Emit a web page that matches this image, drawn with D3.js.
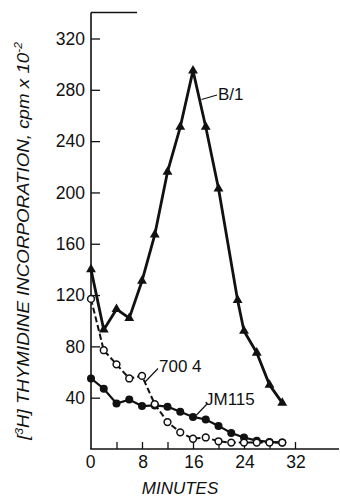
<!DOCTYPE html>
<html><head><meta charset="utf-8">
<script src="https://cdn.jsdelivr.net/npm/d3@7"></script>
<style>
html,body{margin:0;padding:0;background:#fff;}
svg{display:block;}
text{font-family:"Liberation Sans",Arial,Helvetica,sans-serif;fill:#111;}
</style></head><body>
<div id="chart"></div>
<script>
// ---- data ----
const b1Times   = [0,2,4,6,8,10,12,14,16,18,20,23,24,26,28,30];
const b1Values  = [140,93,109,102,131,167,216,251,295,251,203,116,92,75,50,36];
const s7004Times  = [0,2,4,6,8,10,12,14,16,18,20,22,24,26,28,30];
const s7004Values = [117,77,66,55,57,35,21,13,8,9,6,5,5,5,5,5];
const jmTimes   = [0,2,4,6,8,10,12,14,16,18,20,22,24,26,28,30];
const jmValues  = [55,47,35.5,38.5,33.5,34,33,29,25,23,18,12.5,9,6.5,5.5,5];
const xTickLabels = [0,8,16,24,32];
const xTickMarks  = [4,8,12,16,20,24,28,32];
const yTickLabels = [40,80,120,160,200,240,280,320];

const W = 340, H = 500;
const svg = d3.select("#chart").append("svg").attr("width", W).attr("height", H);

const x = d3.scaleLinear().domain([0, 32]).range([91, 295]);
const y = d3.scaleLinear().domain([0, 320]).range([449, 38.5]);

const ink = "#111";

// axes lines
svg.append("line").attr("x1", x(0)).attr("x2", x(0)).attr("y1", y(0)).attr("y2", 12.5)
  .attr("stroke", ink).attr("stroke-width", 1.6);
svg.append("line").attr("x1", x(0)).attr("x2", 137).attr("y1", 12.5).attr("y2", 12.5)
  .attr("stroke", ink).attr("stroke-width", 1.4);
svg.append("line").attr("x1", x(0) - 0.8).attr("x2", 339).attr("y1", y(0)).attr("y2", y(0))
  .attr("stroke", ink).attr("stroke-width", 1.6);

// y axis ticks (inward) and labels
const yAxis = d3.axisRight(y).tickValues(yTickLabels).tickSize(9).tickFormat("");
svg.append("g").attr("transform", `translate(${x(0)},0)`).call(yAxis)
  .call(g => g.select(".domain").remove())
  .call(g => g.selectAll(".tick line").attr("stroke", ink).attr("stroke-width", 1.3));
svg.append("g").selectAll("text").data(yTickLabels).join("text")
  .attr("x", 85).attr("y", d => y(d)).attr("dy", "0.36em")
  .attr("text-anchor", "end").attr("font-size", 17.5).text(d => d);

// x axis ticks (inward)
const xAxis = d3.axisTop(x).tickValues(xTickMarks).tickSize(7).tickFormat("");
svg.append("g").attr("transform", `translate(0,${y(0)})`).call(xAxis)
  .call(g => g.select(".domain").remove())
  .call(g => g.selectAll(".tick line").attr("stroke", ink).attr("stroke-width", 1.3));
svg.append("g").selectAll("text").data(xTickLabels).join("text")
  .attr("x", d => x(d) + (d === 0 ? -0.5 : 1)).attr("y", 467.5)
  .attr("text-anchor", "middle").attr("font-size", 17.5).text(d => d);

// axis titles
svg.append("text").attr("x", 180).attr("y", 494).attr("text-anchor", "middle")
  .attr("font-size", 17).attr("font-style", "italic").text("MINUTES");

const yt = svg.append("text")
  .attr("transform", "translate(29,440) rotate(-90)")
  .attr("font-size", 17).attr("font-style", "italic")
  .attr("textLength", 398).attr("lengthAdjust", "spacingAndGlyphs");
yt.append("tspan").text("[");
yt.append("tspan").attr("dy", -6).attr("font-size", 11).text("3");
yt.append("tspan").attr("dy", 6).text("H]  THYMIDINE  INCORPORATION,  cpm  x  10");
yt.append("tspan").attr("dy", -7).attr("font-size", 11).text("-2");

// series
const pts = (ts, vs) => ts.map((t, i) => [t, vs[i]]);
const line = d3.line().x(d => x(d[0])).y(d => y(d[1]));

const b1 = pts(b1Times, b1Values);
const s7 = pts(s7004Times, s7004Values);
const jm = pts(jmTimes, jmValues);

svg.append("path").datum(b1).attr("d", line).attr("fill", "none")
  .attr("stroke", ink).attr("stroke-width", 2.8).attr("stroke-linejoin", "round");
svg.append("g").selectAll("path").data(b1).join("path")
  .attr("transform", d => `translate(${x(d[0])},${y(d[1])})`)
  .attr("d", d3.symbol(d3.symbolTriangle, 42)).attr("fill", ink);

svg.append("path").datum(jm).attr("d", line).attr("fill", "none")
  .attr("stroke", ink).attr("stroke-width", 2.2);
svg.append("g").selectAll("circle").data(jm).join("circle")
  .attr("cx", d => x(d[0])).attr("cy", d => y(d[1])).attr("r", 4).attr("fill", ink);

svg.append("path").datum(s7).attr("d", line).attr("fill", "none")
  .attr("stroke", ink).attr("stroke-width", 2).attr("stroke-dasharray", "6,3");
svg.append("g").selectAll("circle").data(s7).join("circle")
  .attr("cx", d => x(d[0])).attr("cy", d => y(d[1])).attr("r", 3.4)
  .attr("fill", "#fff").attr("stroke", ink).attr("stroke-width", 1.5);

// labels with leader lines
const labels = [
  {text: "B/1",   lx: 218, ly: 100, x1: 201.5, y1: 99.5, x2: 217, y2: 95},
  {text: "700 4", lx: 159, ly: 372, x1: 145, y1: 382, x2: 158, y2: 368.5},
  {text: "JM115", lx: 205, ly: 405, x1: 196.5, y1: 415, x2: 207, y2: 404}
];
svg.append("g").selectAll("line").data(labels).join("line")
  .attr("x1", d => d.x1).attr("y1", d => d.y1).attr("x2", d => d.x2).attr("y2", d => d.y2)
  .attr("stroke", ink).attr("stroke-width", 1.2);
svg.append("g").selectAll("text").data(labels).join("text")
  .attr("x", d => d.lx).attr("y", d => d.ly).attr("font-size", 17).text(d => d.text);
</script>
</body></html>
